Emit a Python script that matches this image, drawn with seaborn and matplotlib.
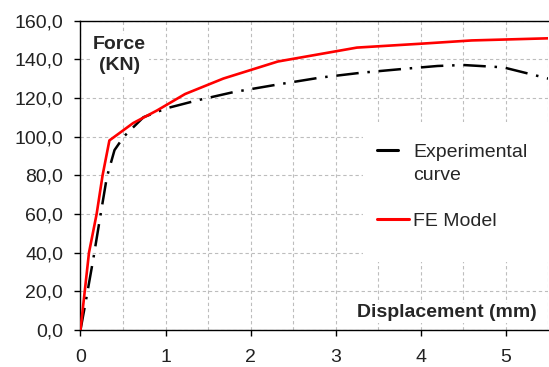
import matplotlib
matplotlib.use("Agg")
import matplotlib.pyplot as plt
from matplotlib.lines import Line2D
from matplotlib.patches import Rectangle
from matplotlib.legend_handler import HandlerLine2D
from matplotlib.ticker import FuncFormatter, MultipleLocator
import seaborn as sns
import pandas as pd

# ---- data ----
disp_fe = [0, 0.05, 0.10, 0.19, 0.26, 0.34, 0.62, 0.90, 1.23, 1.68, 2.32, 3.25, 4.0, 4.6, 5.5]
force_fe = [0, 20, 40, 60, 80, 98, 107, 113.5, 122, 130, 138.8, 146, 148, 149.7, 150.8]

disp_exp = [0, 0.065, 0.15, 0.23, 0.31, 0.40, 0.51, 0.74, 1.01, 1.37, 1.80, 2.33, 2.82, 3.3, 3.8, 4.2, 4.5, 4.97, 5.5]
force_exp = [0, 15.5, 36.6, 58, 79, 93, 100, 110, 114.6, 118.7, 123, 127, 130.5, 133, 135, 136.5, 137, 135.8, 130]

x_ticks = [0, 1, 2, 3, 4, 5]
y_ticks = [0, 20, 40, 60, 80, 100, 120, 140, 160]

label_exp = "Experimental"
label_exp2 = "curve"
label_fe = "FE Model"
y_title = "Force\n(KN)"
x_title = "Displacement (mm)"

sns.set_theme(style="white")
plt.rcParams["font.family"] = ["Liberation Sans", "DejaVu Sans"]

fig = plt.figure(figsize=(5.49, 3.67), dpi=100)
ax = fig.add_axes([0.1466, 0.1008, 0.8520, 0.8433])

df_exp = pd.DataFrame({"d": disp_exp, "f": force_exp})
df_fe = pd.DataFrame({"d": disp_fe, "f": force_fe})

sns.lineplot(data=df_exp, x="d", y="f", ax=ax, color="black", linewidth=1.8,
             linestyle=(0, (9, 3.5, 1, 3.5)), sort=False, estimator=None, zorder=3)
sns.lineplot(data=df_fe, x="d", y="f", ax=ax, color="#ff0000", linewidth=1.9,
             sort=False, estimator=None, zorder=4)
for ln in ax.lines:
    ln.set_dash_capstyle("butt")

ax.set_xlim(0, 5.5)
ax.set_ylim(0, 160)
ax.set_xticks(x_ticks)
ax.set_yticks(y_ticks)
ax.xaxis.set_minor_locator(MultipleLocator(0.5))
ax.yaxis.set_major_formatter(FuncFormatter(lambda v, p: f"{v:.1f}".replace(".", ",")))
ax.set_xlabel("")
ax.set_ylabel("")

ax.grid(True, which="both", color="#bdbdbd", linestyle=(0, (3, 2.5)), linewidth=0.8)
ax.set_axisbelow(True)

for s in ["left", "bottom", "top"]:
    ax.spines[s].set_visible(True)
    ax.spines[s].set_color("black")
    ax.spines[s].set_linewidth(1.0)
ax.spines["right"].set_visible(False)

ax.tick_params(axis="x", which="major", direction="out", length=4, width=1, color="black",
               labelsize=14, pad=10, bottom=True)
ax.tick_params(axis="x", which="minor", length=0)
ax.tick_params(axis="y", direction="out", length=4.5, width=1, color="black",
               labelsize=14, pad=8, left=True)
for t in ax.get_xticklabels() + ax.get_yticklabels():
    t.set_color("#222222")

# white area behind legend (masks grid)
ax.add_patch(Rectangle((0.604, 0.22), 0.396, 0.452, transform=ax.transAxes,
                       facecolor="white", edgecolor="none", zorder=1.5))


class ShortLineHandler(HandlerLine2D):
    def create_artists(self, legend, orig_handle, xdescent, ydescent, width, height,
                       fontsize, trans):
        return super().create_artists(legend, orig_handle, xdescent, ydescent,
                                      width * 0.66, height, fontsize, trans)


exp_handle = Line2D([], [], color="black", linewidth=2.2)
handles = [exp_handle,
           Line2D([], [], color="none"),
           Line2D([], [], color="none"),
           Line2D([], [], color="#ff0000", linewidth=2.2)]
labels = [label_exp, label_exp2, "", label_fe]
leg = ax.legend(handles, labels, loc="upper left", bbox_to_anchor=(0.634, 0.604),
                frameon=False, fontsize=14, handlelength=1.65, handletextpad=0.2,
                labelspacing=0.28, borderpad=0, borderaxespad=0,
                handler_map={exp_handle: ShortLineHandler()})
leg.set_zorder(5)

ax.text(0.46, 142, y_title, fontsize=14, fontweight="bold", ha="center", va="center",
        linespacing=1.3, zorder=5,
        bbox=dict(facecolor="white", edgecolor="none", pad=2))
ax.text(4.31, 8.8, x_title, fontsize=14, fontweight="bold", ha="center", va="center",
        zorder=5, bbox=dict(facecolor="white", edgecolor="none", pad=1))

fig.savefig("out.png", dpi=100)
